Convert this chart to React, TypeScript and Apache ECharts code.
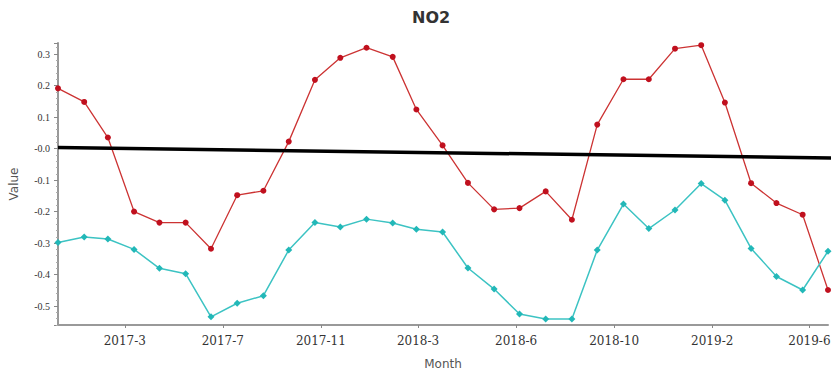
import React, { useEffect, useRef } from "react";
import * as echarts from "echarts";

// Monthly observations (first day of each month, UTC)
const months: string[] = [
  "2017-01-01", "2017-02-01", "2017-03-01", "2017-04-01", "2017-05-01", "2017-06-01",
  "2017-07-01", "2017-08-01", "2017-09-01", "2017-10-01", "2017-11-01", "2017-12-01",
  "2018-01-01", "2018-02-01", "2018-03-01", "2018-04-01", "2018-05-01", "2018-06-01",
  "2018-07-01", "2018-08-01", "2018-09-01", "2018-10-01", "2018-11-01", "2018-12-01",
  "2019-01-01", "2019-02-01", "2019-03-01", "2019-04-01", "2019-05-01", "2019-06-01",
  "2019-07-01",
];

const redValues: number[] = [
  0.191, 0.148, 0.035, -0.2, -0.235, -0.235, -0.318, -0.148, -0.134, 0.022, 0.218,
  0.288, 0.32, 0.291, 0.124, 0.01, -0.109, -0.193, -0.189, -0.136, -0.226, 0.076,
  0.22, 0.22, 0.317, 0.328, 0.146, -0.11, -0.173, -0.21, -0.449,
];

const cyanValues: number[] = [
  -0.298, -0.281, -0.287, -0.32, -0.38, -0.397, -0.534, -0.491, -0.467, -0.322, -0.235,
  -0.249, -0.224, -0.236, -0.256, -0.265, -0.379, -0.446, -0.525, -0.541, -0.541, -0.322,
  -0.176, -0.254, -0.195, -0.111, -0.164, -0.317, -0.406, -0.449, -0.326,
];

// Straight trend line end points
const trendDates: string[] = ["2017-01-01", "2019-07-11"];
const trendValues: number[] = [0.003, -0.03];

// Date axis ticks and their labels
const tickDates: string[] = [
  "2017-03-21", "2017-07-15", "2017-11-08", "2018-03-03",
  "2018-06-27", "2018-10-21", "2019-02-14", "2019-06-09",
];
const tickLabels: string[] = [
  "2017-3", "2017-7", "2017-11", "2018-3", "2018-6", "2018-10", "2019-2", "2019-6",
];

const yMin = -0.56;
const yMax = 0.335;

const ts = (d: string) => Date.parse(d + "T00:00:00Z");

export default function App() {
  const ref = useRef<HTMLDivElement>(null);

  useEffect(() => {
    document.body.style.margin = "0";
    if (!ref.current) return;
    const chart = echarts.init(ref.current, undefined, { renderer: "svg" });

    const tickTs = tickDates.map(ts);
    const labelFor = (v: number) => {
      let best = 0;
      for (let i = 1; i < tickTs.length; i++) {
        if (Math.abs(tickTs[i] - v) < Math.abs(tickTs[best] - v)) best = i;
      }
      return tickLabels[best];
    };

    chart.setOption({
      animation: false,
      backgroundColor: "#ffffff",
      title: {
        text: "NO2",
        left: 412,
        top: 9,
        padding: 0,
        textStyle: {
          fontFamily: "DejaVu Sans",
          fontWeight: "bold",
          fontSize: 16,
          color: "#333333",
        },
      },
      grid: { left: 58, right: 9, top: 43, bottom: 49, containLabel: false },
      xAxis: {
        type: "value",
        min: ts(months[0]),
        max: ts(months[months.length - 1]),
        name: "Month",
        nameLocation: "middle",
        nameGap: 33,
        nameTextStyle: { fontFamily: "DejaVu Sans", fontSize: 12, color: "#555555" },
        splitLine: { show: false },
        axisLine: { show: true, onZero: false, lineStyle: { color: "#999999", width: 2 } },
        axisTick: {
          show: true,
          customValues: tickTs,
          length: 3,
          lineStyle: { color: "#888888", width: 1 },
        },
        axisLabel: {
          customValues: tickTs,
          margin: 10,
          fontFamily: "DejaVu Serif",
          fontSize: 12,
          color: "#333333",
          formatter: (v: number) => labelFor(v),
        },
      },
      yAxis: {
        type: "value",
        min: yMin,
        max: yMax,
        splitNumber: 9,
        name: "Value",
        nameLocation: "middle",
        nameRotate: 90,
        nameGap: 38,
        nameTextStyle: { fontFamily: "DejaVu Sans", fontSize: 12, color: "#555555" },
        splitLine: { show: false },
        axisLine: { show: true, onZero: false, lineStyle: { color: "#999999", width: 2 } },
        axisTick: { show: true, length: 4, lineStyle: { color: "#888888" } },
        minorTick: { show: true, splitNumber: 5, length: 2, lineStyle: { color: "#aaaaaa" } },
        axisLabel: {
          showMinLabel: false,
          showMaxLabel: false,
          margin: 8,
          fontFamily: "Liberation Serif",
          fontSize: 10,
          color: "#333333",
          formatter: (v: number) => (Math.abs(v) < 1e-9 ? "-0.0" : v.toFixed(1)),
        },
      },
      series: [
        {
          type: "line",
          data: months.map((m, i) => [ts(m), redValues[i]]),
          symbol: "circle",
          symbolSize: 6,
          lineStyle: { color: "#cc3333", width: 1.3 },
          itemStyle: { color: "#c0101e" },
        },
        {
          type: "line",
          data: months.map((m, i) => [ts(m), cyanValues[i]]),
          symbol: "diamond",
          symbolSize: 7,
          lineStyle: { color: "#3cc3c3", width: 1.5 },
          itemStyle: { color: "#22b8b8" },
        },
        {
          type: "line",
          data: trendDates.map((d, i) => [ts(d), trendValues[i]]),
          symbol: "none",
          clip: false,
          lineStyle: { color: "#000000", width: 3.5 },
        },
      ],
    });

    return () => chart.dispose();
  }, []);

  return <div ref={ref} style={{ width: 837, height: 375 }} />;
}
